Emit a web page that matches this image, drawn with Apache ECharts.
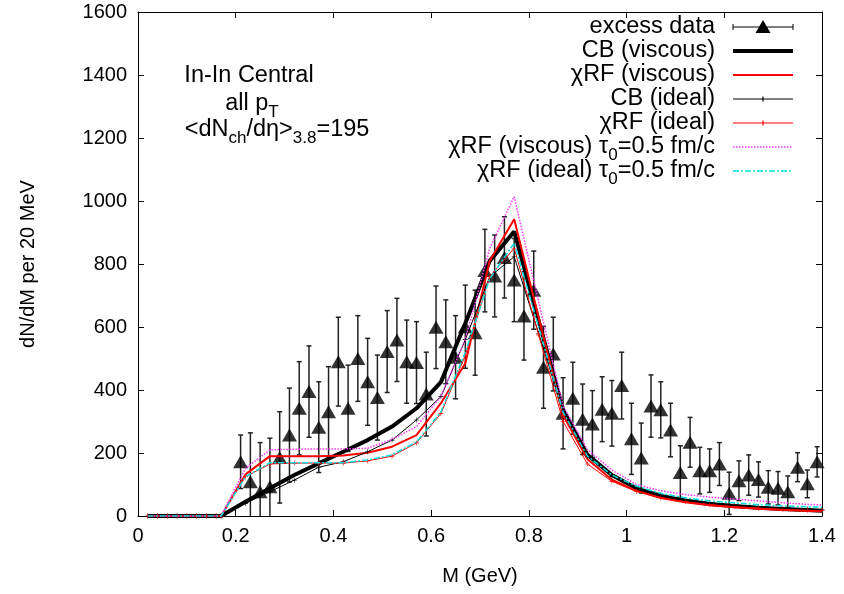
<!DOCTYPE html>
<html>
<head>
<meta charset="utf-8">
<script src="https://cdn.jsdelivr.net/npm/echarts@6/dist/echarts.min.js"></script>
<style>
  html, body { margin: 0; padding: 0; background: #fff; }
  #chart { width: 844px; height: 594px; }
</style>
</head>
<body>
<div id="chart"></div>
<script>
// Dilepton excess mass spectrum (In-In central) compared with hydro-based rates.

// Measured excess: bin centres (GeV), yields and errors (per 20 MeV)
const dataMass = [0.21, 0.23, 0.25, 0.27, 0.29, 0.31, 0.33, 0.35, 0.37, 0.39,
                  0.41, 0.43, 0.45, 0.47, 0.49, 0.51, 0.53, 0.55, 0.57, 0.59,
                  0.61, 0.63, 0.65, 0.67, 0.69, 0.71, 0.73, 0.75, 0.77, 0.79,
                  0.81, 0.83, 0.85, 0.87, 0.89, 0.91, 0.93, 0.95, 0.97, 0.99,
                  1.01, 1.03, 1.05, 1.07, 1.09, 1.11, 1.13, 1.15, 1.17, 1.19,
                  1.21, 1.23, 1.25, 1.27, 1.29, 1.31, 1.33, 1.35, 1.37, 1.39];
const excessYield = [172, 109, 77, 93, 186, 257, 342, 395, 282, 331,
                     490, 342, 500, 426, 376, 522, 559, 490, 487, 387,
                     599, 553, 504, 601, 582, 779, 762, 821, 749, 635,
                     717, 472, 514, 326, 374, 307, 292, 339, 326, 414,
                     245, 184, 349, 337, 273, 138, 234, 144, 144, 165,
                     72, 112, 130, 116, 91, 88, 77, 155, 102, 172];
const excessError = [85, 155, 156, 154, 145, 149, 148, 145, 144, 143,
                     141, 137, 136, 138, 135, 130, 132, 132, 130, 133,
                     131, 133, 132, 132, 135, 131, 130, 129, 132, 140,
                     124, 130, 117, 113, 114, 112, 106, 103, 104, 106,
                     113, 111, 99, 89, 85, 85, 79, 74, 69, 68,
                     67, 63, 64, 56, 53, 53, 50, 46, 44, 48];

// Model grid (GeV)
const modelMass = [0.02, 0.04, 0.06, 0.08, 0.10, 0.12, 0.14, 0.16, 0.17,
                   0.22, 0.27, 0.32, 0.37, 0.42, 0.47, 0.52, 0.57, 0.62, 0.67, 0.72, 0.77,
                   0.82, 0.87, 0.92, 0.97, 1.02, 1.07, 1.12, 1.17, 1.22, 1.27, 1.32, 1.37, 1.40];
const cbViscous = [0, 0, 0, 0, 0, 0, 0, 0, 0,
                   45, 88, 130, 167, 204, 241, 284, 342, 425, 612, 810, 903,
                   620, 337, 194, 130, 88, 64, 49, 38, 32, 26, 22, 19, 17];
const rfViscous = [0, 0, 0, 0, 0, 0, 0, 0, 0,
                   132, 190, 190, 190, 192, 201, 220, 257, 358, 485, 810, 942,
                   630, 320, 180, 115, 80, 57, 44, 34, 28, 23, 19, 16, 15];
const cbIdeal = [0, 0, 0, 0, 0, 0, 0, 0, 0,
                 40, 77, 114, 155, 172, 204, 241, 305, 379, 560, 760, 823,
                 580, 335, 190, 125, 90, 66, 52, 42, 35, 29, 25, 22, 20];
const rfIdeal = [0, 0, 0, 0, 0, 0, 0, 0, 0,
                 125, 165, 168, 168, 168, 175, 190, 232, 325, 510, 760, 850,
                 575, 300, 165, 110, 78, 58, 45, 36, 30, 25, 21, 18, 17];
const rfViscousTau = [0, 0, 0, 0, 0, 0, 0, 0, 0,
                      151, 210, 212, 213, 213, 215, 243, 284, 380, 560, 850, 1014,
                      680, 350, 210, 146, 100, 80, 68, 60, 54, 48, 42, 37, 35];
const rfIdealTau = [0, 0, 0, 0, 0, 0, 0, 0, 0,
                    125, 169, 169, 169, 169, 178, 194, 235, 330, 520, 754, 866,
                    600, 330, 190, 130, 95, 72, 58, 48, 42, 36, 32, 29, 28];

// Axis ticks
const xTicks = [0, 0.2, 0.4, 0.6, 0.8, 1, 1.2, 1.4];
const yTicks = [0, 200, 400, 600, 800, 1000, 1200, 1400, 1600];

const FONT = '"Liberation Sans", Arial, sans-serif';
const plus = 'path://M0,4.4h10v1.2h-10z M4.4,0h1.2v10h-1.2z';

const zip = (xs, ys) => xs.map((x, i) => [x, ys[i]]);

const chart = echarts.init(document.getElementById('chart'), null, { renderer: 'canvas' });

function errorBar(params, api) {
  const x = api.value(0), y = api.value(1), e = api.value(2);
  const lo = Math.max(0, y - e);
  const pTop = api.coord([x, y + e]);
  const pBot = api.coord([x, lo]);
  const st = { stroke: '#222', lineWidth: 1.5 };
  const kids = [
    { type: 'line', shape: { x1: pTop[0], y1: pTop[1], x2: pBot[0], y2: pBot[1] }, style: st },
    { type: 'line', shape: { x1: pTop[0] - 2.5, y1: pTop[1], x2: pTop[0] + 2.5, y2: pTop[1] }, style: st }
  ];
  if (y - e > 0) {
    kids.push({ type: 'line', shape: { x1: pBot[0] - 2.5, y1: pBot[1], x2: pBot[0] + 2.5, y2: pBot[1] }, style: st });
  }
  return { type: 'group', children: kids };
}

// Legend drawn gnuplot-style: right-justified text, sample to the right
const legendRows = [
  { text: 'excess data', kind: 'data' },
  { text: 'CB (viscous)', color: '#000', width: 4 },
  { text: 'χRF (viscous)', color: '#ff0000', width: 2 },
  { text: 'CB (ideal)', color: '#000', width: 1, mark: true },
  { text: 'χRF (ideal)', color: '#ff0000', width: 1, mark: true },
  { text: 'χRF (viscous) τ{sub|0}=0.5 fm/c', color: '#ff33ff', width: 1.5, dash: [1.5, 1.5] },
  { text: 'χRF (ideal) τ{sub|0}=0.5 fm/c', color: '#00e0e0', width: 1.5, dash: [6, 2, 2, 2] }
];
const legendX = 715, sampleX1 = 733, sampleX2 = 793, legendTop = 27, legendStep = 24;
const TXT = 23.5;
const richSub = { sub: { fontSize: 17, fontFamily: FONT, verticalAlign: 'top', padding: [12, 0, 0, 0], lineHeight: 24 } };

const legendGraphics = [];
legendRows.forEach((r, i) => {
  const y = legendTop + i * legendStep;
  legendGraphics.push({
    type: 'text', x: legendX, y: y,
    style: { text: r.text, fontSize: TXT, fontFamily: FONT, fill: '#000', align: 'right', verticalAlign: 'middle', lineHeight: 24, rich: richSub }
  });
  if (r.kind === 'data') {
    legendGraphics.push(
      { type: 'line', shape: { x1: sampleX1, y1: y, x2: sampleX2, y2: y }, style: { stroke: '#000', lineWidth: 1 } },
      { type: 'line', shape: { x1: sampleX1, y1: y - 3, x2: sampleX1, y2: y + 3 }, style: { stroke: '#000', lineWidth: 1 } },
      { type: 'line', shape: { x1: sampleX2, y1: y - 3, x2: sampleX2, y2: y + 3 }, style: { stroke: '#000', lineWidth: 1 } },
      { type: 'polygon', shape: { points: [[763, y - 7], [770.5, y + 6], [755.5, y + 6]] }, style: { fill: '#000' } }
    );
  } else {
    legendGraphics.push({ type: 'line', shape: { x1: sampleX1, y1: y, x2: sampleX2, y2: y },
      style: { stroke: r.color, lineWidth: r.width, lineDash: r.dash || null } });
    if (r.mark) {
      legendGraphics.push({ type: 'line', shape: { x1: 763, y1: y - 2.5, x2: 763, y2: y + 2.5 }, style: { stroke: r.color, lineWidth: 1.2 } });
    }
  }
});

const annotations = [
  { text: 'In-In Central', x: 249, y: 76 },
  { text: 'all p{sub|T}', x: 252, y: 104 },
  { text: '<dN{sub|ch}/dη>{sub|3.8}=195', x: 277, y: 130 }
].map(a => ({
  type: 'text', x: a.x, y: a.y,
  style: { text: a.text, fontSize: TXT, fontFamily: FONT, fill: '#000', align: 'center', verticalAlign: 'middle', lineHeight: 24, rich: richSub }
}));

const axisCommon = {
  type: 'value',
  axisLine: { show: true, onZero: false, lineStyle: { color: '#000', width: 1 } },
  axisTick: { show: true, inside: true, length: 6, lineStyle: { color: '#000' } },
  splitLine: { show: false }
};

const option = {
  animation: false,
  backgroundColor: '#fff',
  textStyle: { fontFamily: FONT },
  grid: { left: 138, right: 22, top: 12, bottom: 78 },
  xAxis: [
    Object.assign({}, axisCommon, {
      min: xTicks[0], max: xTicks[xTicks.length - 1], interval: 0.2, position: 'bottom',
      axisLabel: { fontSize: 20, color: '#000', margin: 10, fontFamily: FONT,
                   formatter: v => String(parseFloat(v.toFixed(1))) },
      name: 'M (GeV)', nameLocation: 'middle', nameGap: 50,
      nameTextStyle: { fontSize: 20, color: '#000', fontFamily: FONT }
    }),
    Object.assign({}, axisCommon, {
      min: xTicks[0], max: xTicks[xTicks.length - 1], interval: 0.2, position: 'top',
      axisLabel: { show: false }
    })
  ],
  yAxis: [
    Object.assign({}, axisCommon, {
      min: yTicks[0], max: yTicks[yTicks.length - 1], interval: 200, position: 'left',
      axisLabel: { fontSize: 20, color: '#000', margin: 11, fontFamily: FONT,
                   formatter: v => String(v) },
      name: 'dN/dM per 20 MeV', nameLocation: 'middle', nameGap: 100,
      nameTextStyle: { fontSize: 20, color: '#000', fontFamily: FONT }
    }),
    Object.assign({}, axisCommon, {
      min: yTicks[0], max: yTicks[yTicks.length - 1], interval: 200, position: 'right',
      axisLabel: { show: false }
    })
  ],
  graphic: legendGraphics.concat(annotations),
  series: [
    {
      name: 'excess data errors', type: 'custom', renderItem: errorBar,
      data: dataMass.map((m, i) => [m, excessYield[i], excessError[i]]), z: 2,
      encode: { x: 0, y: 1 }
    },
    {
      name: 'excess data', type: 'scatter', symbol: 'triangle', symbolSize: [15, 13],
      itemStyle: { color: '#000' }, data: zip(dataMass, excessYield), z: 3
    },
    {
      name: 'CB (viscous)', type: 'line', data: zip(modelMass, cbViscous), showSymbol: false,
      lineStyle: { color: '#000', width: 4 }, z: 4
    },
    {
      name: 'χRF (viscous)', type: 'line', data: zip(modelMass, rfViscous), showSymbol: false,
      lineStyle: { color: '#ff0000', width: 2 }, z: 5
    },
    {
      name: 'CB (ideal)', type: 'line', data: zip(modelMass, cbIdeal), symbol: plus, symbolSize: 5,
      itemStyle: { color: '#000' }, lineStyle: { color: '#000', width: 1 }, z: 6
    },
    {
      name: 'χRF (ideal)', type: 'line', data: zip(modelMass, rfIdeal), symbol: plus, symbolSize: 5,
      itemStyle: { color: '#ff0000' }, lineStyle: { color: '#ff0000', width: 1 }, z: 7
    },
    {
      name: 'χRF (viscous) τ0=0.5 fm/c', type: 'line', data: zip(modelMass, rfViscousTau), showSymbol: false,
      lineStyle: { color: '#ff33ff', width: 1.5, type: [1.5, 1.5] }, z: 8
    },
    {
      name: 'χRF (ideal) τ0=0.5 fm/c', type: 'line', data: zip(modelMass, rfIdealTau), showSymbol: false,
      lineStyle: { color: '#00e0e0', width: 1.5, type: [6, 2, 2, 2] }, z: 9
    }
  ]
};

chart.setOption(option);
</script>
</body>
</html>
